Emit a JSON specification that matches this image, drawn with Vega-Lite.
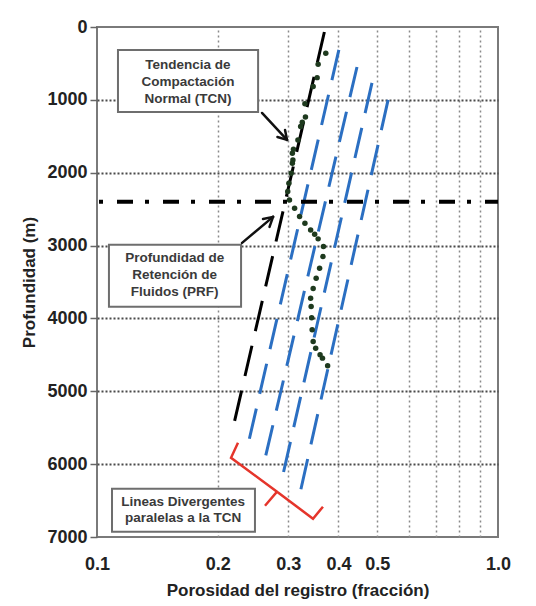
{
  "$schema": "https://vega.github.io/schema/vega-lite/v6.json",
  "width": 401,
  "height": 510,
  "autosize": {"type": "none"},
  "padding": {"left": 97, "top": 27, "right": 38, "bottom": 69},
  "background": "white",
  "config": {
    "view": {"stroke": "#7a7a7a", "strokeWidth": 2},
    "font": "Liberation Sans"
  },
  "datasets": {
    "lines": [
      {"kind": "tcn", "series": "TCN", "o": 0, "phi": 0.369, "depth": 69},
      {"kind": "tcn", "series": "TCN", "o": 1, "phi": 0.2184, "depth": 5500},
      {"kind": "blue", "series": "B1", "o": 0, "phi": 0.401, "depth": 315},
      {"kind": "blue", "series": "B1", "o": 1, "phi": 0.238, "depth": 5734},
      {"kind": "blue", "series": "B2", "o": 0, "phi": 0.445, "depth": 549},
      {"kind": "blue", "series": "B2", "o": 1, "phi": 0.261, "depth": 5981},
      {"kind": "blue", "series": "B3", "o": 0, "phi": 0.485, "depth": 768},
      {"kind": "blue", "series": "B3", "o": 1, "phi": 0.289, "depth": 6214},
      {"kind": "blue", "series": "B4", "o": 0, "phi": 0.532, "depth": 1001},
      {"kind": "blue", "series": "B4", "o": 1, "phi": 0.319, "depth": 6461},
      {"kind": "prf", "series": "PRF", "o": 0, "phi": 0.1, "depth": 2400},
      {"kind": "prf", "series": "PRF", "o": 1, "phi": 1.0, "depth": 2400},
      {"kind": "bracket", "series": "BR", "o": 0, "phi": 0.2247, "depth": 5706},
      {"kind": "bracket", "series": "BR", "o": 1, "phi": 0.2159, "depth": 5912},
      {"kind": "bracket", "series": "BR", "o": 2, "phi": 0.2811, "depth": 6379},
      {"kind": "bracket", "series": "BR", "o": 3, "phi": 0.2624, "depth": 6571},
      {"kind": "bracket", "series": "BR", "o": 4, "phi": 0.2811, "depth": 6379},
      {"kind": "bracket", "series": "BR", "o": 5, "phi": 0.3457, "depth": 6749},
      {"kind": "bracket", "series": "BR", "o": 6, "phi": 0.366, "depth": 6584},
      {"kind": "arrow", "series": "a1s", "o": 0, "phi": 0.2579, "depth": 1180},
      {"kind": "arrow", "series": "a1s", "o": 1, "phi": 0.2978, "depth": 1550},
      {"kind": "arrow", "series": "a1l", "o": 0, "phi": 0.2944, "depth": 1413},
      {"kind": "arrow", "series": "a1l", "o": 1, "phi": 0.2978, "depth": 1550},
      {"kind": "arrow", "series": "a1r", "o": 0, "phi": 0.2818, "depth": 1509},
      {"kind": "arrow", "series": "a1r", "o": 1, "phi": 0.2978, "depth": 1550},
      {"kind": "arrow", "series": "a2s", "o": 0, "phi": 0.23, "depth": 2963},
      {"kind": "arrow", "series": "a2s", "o": 1, "phi": 0.2748, "depth": 2606},
      {"kind": "arrow", "series": "a2l", "o": 0, "phi": 0.2594, "depth": 2634},
      {"kind": "arrow", "series": "a2l", "o": 1, "phi": 0.2748, "depth": 2606},
      {"kind": "arrow", "series": "a2r", "o": 0, "phi": 0.2693, "depth": 2743},
      {"kind": "arrow", "series": "a2r", "o": 1, "phi": 0.2748, "depth": 2606}
    ],
    "log": [
      {"phi": 0.372, "depth": 361},
      {"phi": 0.356, "depth": 512},
      {"phi": 0.354, "depth": 695},
      {"phi": 0.346, "depth": 817},
      {"phi": 0.330, "depth": 1052},
      {"phi": 0.331, "depth": 1234},
      {"phi": 0.325, "depth": 1307},
      {"phi": 0.322, "depth": 1367},
      {"phi": 0.317, "depth": 1550},
      {"phi": 0.309, "depth": 1678},
      {"phi": 0.307, "depth": 1733},
      {"phi": 0.308, "depth": 1824},
      {"phi": 0.307, "depth": 1870},
      {"phi": 0.305, "depth": 2007},
      {"phi": 0.301, "depth": 2144},
      {"phi": 0.299, "depth": 2259},
      {"phi": 0.302, "depth": 2373},
      {"phi": 0.311, "depth": 2487},
      {"phi": 0.320, "depth": 2600},
      {"phi": 0.330, "depth": 2693},
      {"phi": 0.341, "depth": 2785},
      {"phi": 0.349, "depth": 2844},
      {"phi": 0.356, "depth": 2908},
      {"phi": 0.367, "depth": 3014},
      {"phi": 0.366, "depth": 3151},
      {"phi": 0.359, "depth": 3310},
      {"phi": 0.352, "depth": 3447},
      {"phi": 0.346, "depth": 3590},
      {"phi": 0.341, "depth": 3722},
      {"phi": 0.342, "depth": 3836},
      {"phi": 0.343, "depth": 3990},
      {"phi": 0.344, "depth": 4156},
      {"phi": 0.346, "depth": 4316},
      {"phi": 0.351, "depth": 4408},
      {"phi": 0.360, "depth": 4500},
      {"phi": 0.365, "depth": 4545},
      {"phi": 0.376, "depth": 4650}
    ],
    "boxes": [
      {"x1": 0.1128, "x2": 0.2522, "d1": 315, "d2": 1166},
      {"x1": 0.1071, "x2": 0.2287, "d1": 2990, "d2": 3841},
      {"x1": 0.1090, "x2": 0.2477, "d1": 6337, "d2": 6927}
    ],
    "labels": [
      {"txt": "Tendencia de", "phi": 0.1686, "depth": 521},
      {"txt": "Compactación", "phi": 0.1686, "depth": 754},
      {"txt": "Normal (TCN)", "phi": 0.1686, "depth": 988},
      {"txt": "Profundidad de", "phi": 0.1562, "depth": 3169},
      {"txt": "Retención de", "phi": 0.1562, "depth": 3402},
      {"txt": "Fluidos (PRF)", "phi": 0.1562, "depth": 3635},
      {"txt": "Lineas Divergentes", "phi": 0.164, "depth": 6516},
      {"txt": "paralelas a la TCN", "phi": 0.164, "depth": 6735}
    ]
  },
  "layer": [
    {
      "data": {"name": "lines"},
      "transform": [{"filter": "datum.kind == 'blue'"}],
      "mark": {"type": "line", "color": "#2b6fc2", "strokeWidth": 3, "strokeDash": [31, 15]},
      "encoding": {
        "x": {
          "field": "phi", "type": "quantitative",
          "scale": {"type": "log", "domain": [0.1, 1], "nice": false},
          "axis": {
            "values": [0.1, 0.2, 0.3, 0.4, 0.5, 0.6, 0.7, 0.8, 0.9, 1.0],
            "labelExpr": "datum.value > 0.95 ? '1.0' : (datum.value < 0.55 ? format(datum.value, '.1f') : '')",
            "title": "Porosidad del registro (fracción)",
            "grid": true,
            "gridDash": [2, 3],
            "gridColor": "#8a8a8a",
            "gridWidth": 1.5,
            "gridOpacity": {"condition": {"test": "datum.value > 0.15 && datum.value < 0.95", "value": 1}, "value": 0},
            "ticks": false,
            "domain": false,
            "labelFont": "Liberation Sans",
            "labelFontWeight": "bold",
            "labelFontSize": 18,
            "labelColor": "#222222",
            "labelPadding": 18,
            "labelFlush": false,
            "labelOverlap": false,
            "titleFont": "Liberation Sans",
            "titleFontSize": 17,
            "titleFontWeight": "bold",
            "titleColor": "#222222",
            "titleY": 58,
            "titleBaseline": "alphabetic"
          }
        },
        "y": {
          "field": "depth", "type": "quantitative",
          "scale": {"domain": [0, 7000], "reverse": true, "nice": false},
          "axis": {
            "values": [0, 500, 1000, 1500, 2000, 2500, 3000, 3500, 4000, 4500, 5000, 5500, 6000, 6500, 7000],
            "labelExpr": "datum.value % 1000 == 0 ? format(datum.value, 'd') : ''",
            "title": "Profundidad (m)",
            "grid": true,
            "gridDash": [2, 2],
            "gridColor": "#4a4a4a",
            "gridWidth": 2,
            "gridOpacity": {"condition": {"test": "datum.value > 0 && datum.value < 7000", "value": 1}, "value": 0},
            "ticks": true,
            "tickSize": 7,
            "tickColor": "#666666",
            "tickWidth": 1.5,
            "tickOpacity": {"condition": {"test": "datum.value % 1000 == 0", "value": 1}, "value": 0},
            "domain": false,
            "labelFont": "Liberation Sans",
            "labelFontWeight": "bold",
            "labelFontSize": 18,
            "labelColor": "#222222",
            "labelPadding": 3,
            "labelFlush": false,
            "labelOverlap": false,
            "titleFont": "Liberation Sans",
            "titleFontSize": 17,
            "titleFontWeight": "bold",
            "titleColor": "#222222",
            "titleX": -68,
            "titleY": 255,
            "titleAngle": -90,
            "titleAlign": "center",
            "titleBaseline": "middle"
          }
        },
        "detail": {"field": "series"},
        "order": {"field": "o"}
      }
    },
    {
      "data": {"name": "lines"},
      "transform": [{"filter": "datum.kind == 'tcn'"}],
      "mark": {"type": "line", "color": "#000000", "strokeWidth": 3, "strokeDash": [31, 15]},
      "encoding": {
        "x": {"field": "phi", "type": "quantitative"},
        "y": {"field": "depth", "type": "quantitative"},
        "order": {"field": "o"}
      }
    },
    {
      "data": {"name": "lines"},
      "transform": [{"filter": "datum.kind == 'prf'"}],
      "mark": {"type": "line", "color": "#000000", "strokeWidth": 4, "strokeDash": [16, 12, 4, 14], "strokeDashOffset": -20},
      "encoding": {
        "x": {"field": "phi", "type": "quantitative"},
        "y": {"field": "depth", "type": "quantitative"},
        "order": {"field": "o"}
      }
    },
    {
      "data": {"name": "log"},
      "mark": {"type": "point", "filled": true, "color": "#1e3a1e", "size": 30, "opacity": 1},
      "encoding": {
        "x": {"field": "phi", "type": "quantitative"},
        "y": {"field": "depth", "type": "quantitative"}
      }
    },
    {
      "data": {"name": "boxes"},
      "mark": {"type": "rect", "fill": "white", "stroke": "#6e6e6e", "strokeWidth": 2},
      "encoding": {
        "x": {"field": "x1", "type": "quantitative"},
        "x2": {"field": "x2"},
        "y": {"field": "d1", "type": "quantitative"},
        "y2": {"field": "d2"}
      }
    },
    {
      "data": {"name": "labels"},
      "mark": {"type": "text", "font": "Liberation Sans", "fontSize": 13.5, "fontWeight": "bold", "color": "#3a3a3a", "align": "center", "baseline": "middle"},
      "encoding": {
        "x": {"field": "phi", "type": "quantitative"},
        "y": {"field": "depth", "type": "quantitative"},
        "text": {"field": "txt"}
      }
    },
    {
      "data": {"name": "lines"},
      "transform": [{"filter": "datum.kind == 'arrow'"}],
      "mark": {"type": "line", "color": "#111111", "strokeWidth": 2.5, "strokeCap": "round"},
      "encoding": {
        "x": {"field": "phi", "type": "quantitative"},
        "y": {"field": "depth", "type": "quantitative"},
        "detail": {"field": "series"},
        "order": {"field": "o"}
      }
    },
    {
      "data": {"name": "lines"},
      "transform": [{"filter": "datum.kind == 'bracket'"}],
      "mark": {"type": "line", "color": "#e5352b", "strokeWidth": 2.5, "strokeJoin": "miter"},
      "encoding": {
        "x": {"field": "phi", "type": "quantitative"},
        "y": {"field": "depth", "type": "quantitative"},
        "order": {"field": "o"}
      }
    }
  ]
}
